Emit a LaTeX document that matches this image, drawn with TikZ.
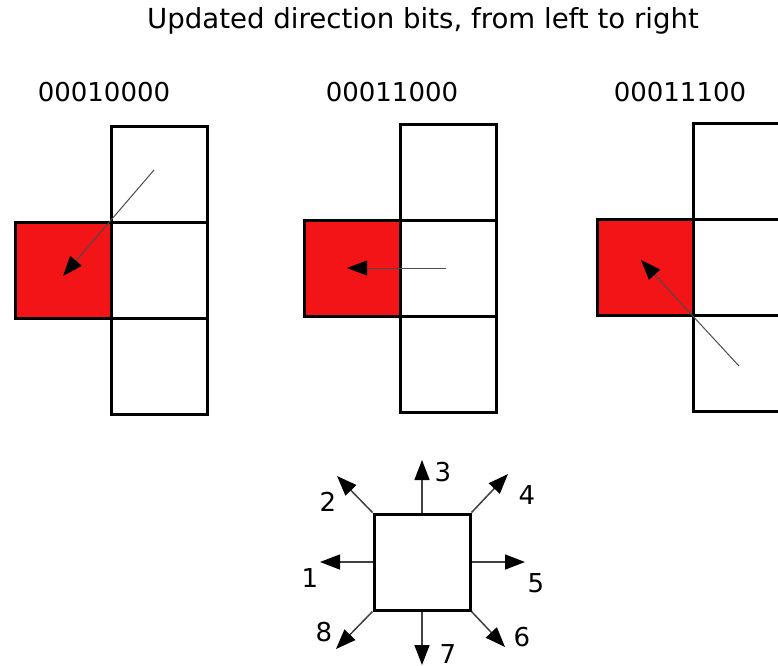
\documentclass[tikz,border=0pt]{standalone}
\usepackage{fontspec}
\setmainfont{DejaVu Sans}
\usetikzlibrary{arrows.meta}
\definecolor{cellred}{RGB}{242,20,22}
\begin{document}
\begin{tikzpicture}[x=1pt,y=-1pt,
  cell/.style={draw=black,line width=3pt,minimum width=96pt,minimum height=96pt,inner sep=0pt,fill=white},
  redcell/.style={cell,fill=cellred},
  lbl/.style={font=\fontsize{26}{30}\selectfont,inner sep=0pt},
  tip/.style={-{Triangle[length=20pt,width=15pt,color=black,fill=black]}},
  mv/.style={draw=black!70,line width=1pt,tip},
  dir/.style={draw=black!75,line width=1.5pt,tip}]
\useasboundingbox (0,0) rectangle (778,665);
\fill[white] (0,0) rectangle (778,665);
\node[lbl,font=\fontsize{27.6}{32}\selectfont] (title) at (423,21) {Updated direction bits, from left to right};
% group 1
\node[lbl] (l1) at (104,92) {00010000};
\node[cell] (a1) at (159,174) {};
\node[cell] (b1) at (159,270) {};
\node[cell] (c1) at (159,366) {};
\node[redcell] (r1) at (63,270) {};
\coordinate (s1) at (154,170);
\coordinate (t1) at (63,276);
\draw[mv] (s1) -- (t1);
% group 2
\node[lbl] (l2) at (392,92) {00011000};
\node[cell] (a2) at (448,172) {};
\node[cell] (b2) at (448,268) {};
\node[cell] (c2) at (448,364) {};
\node[redcell] (r2) at (352,268) {};
\coordinate (s2) at (446,268);
\coordinate (t2) at (347,268);
\draw[mv] (s2) -- (t2);
% group 3
\node[lbl] (l3) at (680,92) {00011100};
\node[cell] (a3) at (741,171) {};
\node[cell] (b3) at (741,267) {};
\node[cell] (c3) at (741,363) {};
\node[redcell] (r3) at (645,267) {};
\coordinate (s3) at (739,366);
\coordinate (t3) at (641,260);
\draw[mv] (s3) -- (t3);
% legend
\node[cell] (sq) at (422,562) {};
\coordinate (d1) at (320,562);
\coordinate (d2) at (337,476);
\coordinate (d3) at (422,460);
\coordinate (d4) at (508,474);
\coordinate (d5) at (525,562);
\coordinate (d6) at (505,647);
\coordinate (d7) at (422,665);
\coordinate (d8) at (336,649);
\draw[dir] (sq.west) -- (d1);
\draw[dir] (sq.north west) -- (d2);
\draw[dir] (sq.north) -- (d3);
\draw[dir] (sq.north east) -- (d4);
\draw[dir] (sq.east) -- (d5);
\draw[dir] (sq.south east) -- (d6);
\draw[dir] (sq.south) -- (d7);
\draw[dir] (sq.south west) -- (d8);
\node[lbl] (n1) at (310,578) {1};
\node[lbl] (n2) at (328,502) {2};
\node[lbl] (n3) at (443,472) {3};
\node[lbl] (n4) at (527,495) {4};
\node[lbl] (n5) at (536,583) {5};
\node[lbl] (n6) at (522,637) {6};
\node[lbl] (n7) at (448,654) {7};
\node[lbl] (n8) at (324,632) {8};
\end{tikzpicture}
\end{document}
